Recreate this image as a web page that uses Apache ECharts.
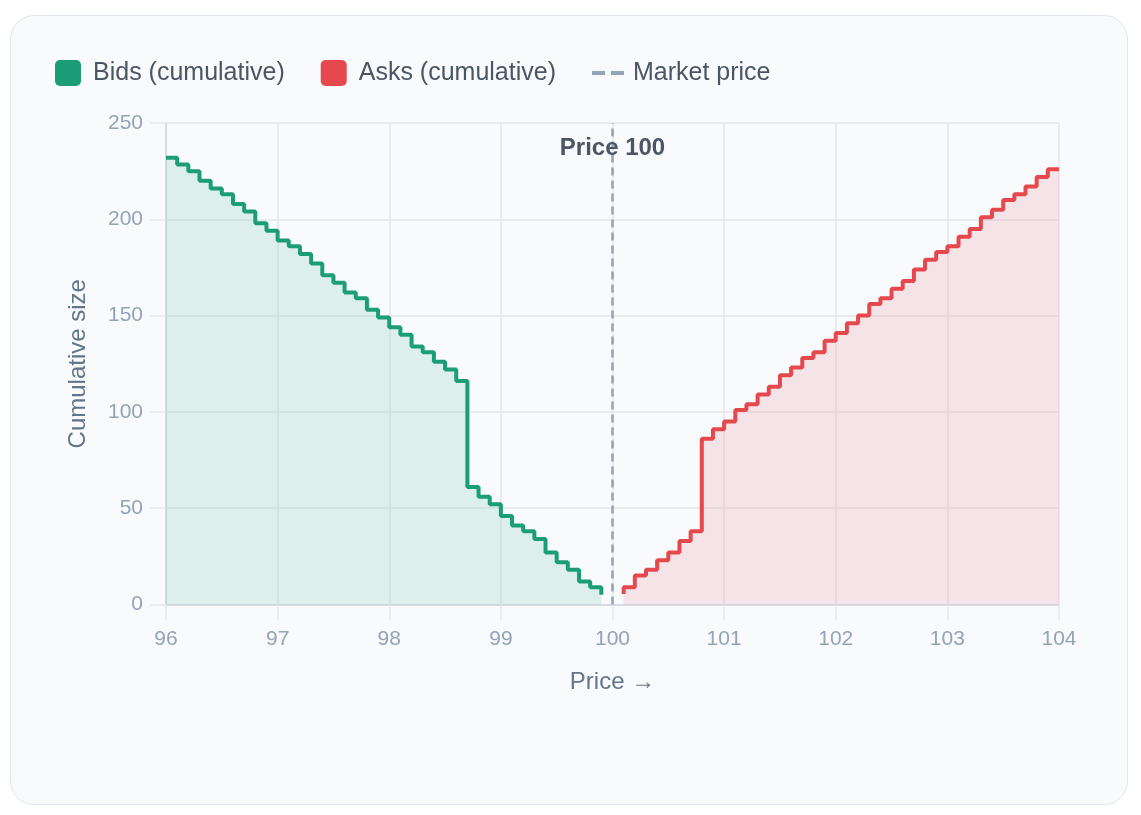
<!DOCTYPE html>
<html>
<head>
<meta charset="utf-8">
<script src="https://cdn.jsdelivr.net/npm/echarts@6/dist/echarts.min.js"></script>
<style>
  html, body { margin: 0; padding: 0; background: #ffffff; }
  #card { position: absolute; left: 10px; top: 15px; width: 1116px; height: 788px;
          background: #f8fafc; border: 1.5px solid #e2e8f0; border-radius: 24px; }
  #chart { position: absolute; left: 0; top: 0; width: 1141px; height: 815px; }
</style>
</head>
<body>
<div id="card"></div>
<div id="chart"></div>
<script>
// ---- data ----
const bidPrices = [96.0, 96.1, 96.2, 96.3, 96.4, 96.5, 96.6, 96.7, 96.8, 96.9,
                   97.0, 97.1, 97.2, 97.3, 97.4, 97.5, 97.6, 97.7, 97.8, 97.9,
                   98.0, 98.1, 98.2, 98.3, 98.4, 98.5, 98.6, 98.7, 98.8, 98.9,
                   99.0, 99.1, 99.2, 99.3, 99.4, 99.5, 99.6, 99.7, 99.8, 99.9];
const bidCumulative = [232, 228.5, 225, 220, 216, 213, 208, 204, 198, 194,
                       189, 186, 182, 177, 171, 167, 162, 159, 153, 149,
                       144, 140, 134, 131, 126, 122, 116, 61, 56, 52,
                       46, 41, 38, 34, 27, 22, 18, 12, 9, 5];
const askPrices = [100.1, 100.2, 100.3, 100.4, 100.5, 100.6, 100.7, 100.8, 100.9, 101.0,
                   101.1, 101.2, 101.3, 101.4, 101.5, 101.6, 101.7, 101.8, 101.9, 102.0,
                   102.1, 102.2, 102.3, 102.4, 102.5, 102.6, 102.7, 102.8, 102.9, 103.0,
                   103.1, 103.2, 103.3, 103.4, 103.5, 103.6, 103.7, 103.8, 103.9, 104.0];
const askCumulative = [5.5, 9, 15, 18, 23, 27, 33, 38, 86, 91,
                       95, 101, 104, 109, 113, 119, 123, 128, 131, 137,
                       141, 146, 150, 156, 159, 164, 168, 174, 179, 183,
                       186, 191, 195, 201, 205, 210, 213, 217, 222, 226];
const marketPrice = 100;
const seriesNames = ['Bids (cumulative)', 'Asks (cumulative)', 'Market price'];
const xAxisName = 'Price \u2192';
const yAxisName = 'Cumulative size';

// ---- chart ----
const FONT = '"Liberation Sans", Arial, Helvetica, sans-serif';
const GREEN = '#1b9e77';
const RED = '#e5484d';
const GRAY = '#94a3b8';
const rsq = 'path://M5,0h16a5,5 0 0 1 5,5v16a5,5 0 0 1 -5,5h-16a5,5 0 0 1 -5,-5v-16a5,5 0 0 1 5,-5z';
const dash = 'path://M0,0h13v4h-13z M19,0h13v4h-13z';

const chart = echarts.init(document.getElementById('chart'), null, { renderer: 'canvas' });
chart.setOption({
  animation: false,
  backgroundColor: 'transparent',
  textStyle: { fontFamily: FONT },
  legend: {
    left: 50, top: 55,
    itemWidth: 32, itemHeight: 26, itemGap: 36,
    textStyle: { fontSize: 25, color: '#4b5563', fontFamily: FONT, padding: [0, 0, 0, 4] },
    data: [
      { name: seriesNames[0], icon: rsq },
      { name: seriesNames[1], icon: rsq },
      { name: seriesNames[2], icon: dash }
    ]
  },
  grid: { left: 166, right: 82, top: 123, bottom: 210.5, containLabel: false },
  xAxis: {
    type: 'value', min: 96, max: 104, interval: 1,
    name: xAxisName, nameLocation: 'middle', nameGap: 66,
    nameTextStyle: { fontSize: 24, color: '#64748b', fontFamily: FONT },
    axisLine: { show: true, lineStyle: { color: '#d1d5db', width: 1.5 } },
    axisTick: { show: true, length: 16, lineStyle: { color: '#e5e7eb', width: 1.5 } },
    axisLabel: { fontSize: 21, color: GRAY, margin: 24, fontFamily: FONT },
    splitLine: { show: true, lineStyle: { color: '#e5e7eb', width: 1.5 } }
  },
  yAxis: {
    type: 'value', min: 0, max: 250, interval: 50,
    name: yAxisName, nameLocation: 'middle', nameGap: 76, nameRotate: 90,
    nameTextStyle: { fontSize: 24, color: '#64748b', fontFamily: FONT },
    axisLine: { show: true, lineStyle: { color: '#d1d5db', width: 1.5 } },
    axisTick: { show: true, length: 16, lineStyle: { color: '#e5e7eb', width: 1.5 } },
    axisLabel: { fontSize: 21, color: GRAY, margin: 23, fontFamily: FONT },
    splitLine: { show: true, lineStyle: { color: '#e5e7eb', width: 1.5 } }
  },
  series: [
    {
      name: seriesNames[0], type: 'line', step: 'end', symbol: 'none',
      color: GREEN,
      lineStyle: { color: GREEN, width: 4 },
      areaStyle: { color: 'rgba(27,158,119,0.17)' },
      data: bidPrices.map((p, i) => [p, bidCumulative[i]])
    },
    {
      name: seriesNames[1], type: 'line', step: 'start', symbol: 'none',
      color: RED,
      lineStyle: { color: RED, width: 4 },
      areaStyle: { color: 'rgba(229,72,77,0.17)' },
      data: askPrices.map((p, i) => [p, askCumulative[i]])
    },
    {
      name: seriesNames[2], type: 'line', symbol: 'none',
      color: GRAY,
      lineStyle: { color: GRAY, width: 2.5, type: 'dashed' },
      data: [],
      markLine: {
        silent: true, symbol: 'none',
        lineStyle: { color: GRAY, width: 2.5, type: [8, 5] },
        label: { show: false },
        data: [{ xAxis: marketPrice }]
      },
      markPoint: {
        silent: true, symbol: 'circle', symbolSize: 0,
        label: {
          show: true, position: 'inside', formatter: 'Price ' + marketPrice,
          fontSize: 24, fontWeight: 'bold', color: '#4b5563', fontFamily: FONT
        },
        data: [{ coord: [marketPrice, 237] }]
      }
    }
  ]
});
</script>
</body>
</html>
